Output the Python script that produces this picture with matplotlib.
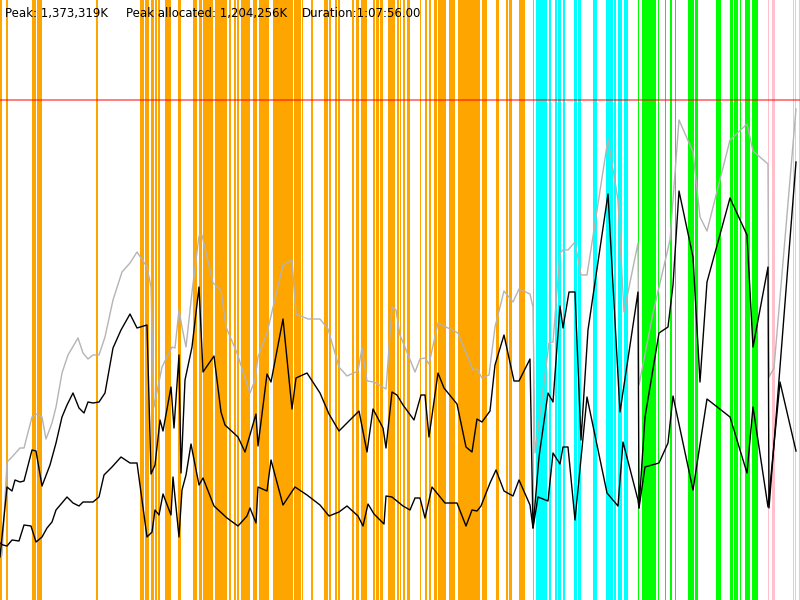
import matplotlib
matplotlib.use("Agg")
import matplotlib.pyplot as plt

# memory samples, in chart units where the peak (1,373,319K) sits at 500
PEAK_LEVEL = 500
peak_text = "Peak: 1,373,319K"
alloc_text = "Peak allocated: 1,204,256K"
dur_text = "Duration:1:07:56.00"

# gc / phase markers as (start, end) spans on the time axis
orange_spans = [
    (0, 2), (6, 8), (32, 36), (37, 42), (96, 98), (140, 144), (145, 149),
    (151, 154), (155, 157), (157.5, 160), (165, 171), (178, 181), (193, 197),
    (199, 202), (203, 213), (215, 227), (229, 230.5), (234, 236), (237, 239),
    (241, 250), (253, 257), (259, 269), (273, 293), (293.5, 301), (302, 303),
    (311, 313), (324, 328), (329, 331), (335, 337), (338, 339.5), (352, 354),
    (356, 359), (361, 367), (373, 375), (376, 379), (380, 383), (388, 395),
    (397, 399), (400, 401), (403, 405), (407, 410), (420, 421), (425, 427),
    (429, 431), (434, 437), (438, 446), (449, 455), (458, 480), (482, 487),
    (496, 499), (506, 508), (509, 512), (519, 525),
]
cyan_spans = [
    (532.5, 534), (536, 547), (549, 551), (555, 557), (558, 561), (563, 565),
    (574, 577), (577.5, 581), (593, 597), (606, 612.5), (613.5, 616),
    (618, 622), (623.5, 627.5),
]
green_spans = [
    (637.5, 638.5), (641.5, 646.7), (647.2, 652.5), (653, 656), (658.3, 659.3),
    (664.8, 666), (669.5, 671.5), (674.5, 676), (688, 694), (695, 697.5),
    (716, 721), (730, 733), (734, 737.5), (740, 741), (745, 749.5),
    (752, 757.5),
]
pink_spans = [(767.5, 769), (771.5, 774.5), (792.5, 794), (795, 796), (799, 800)]

# total heap (gray)
heap_t = [2, 7, 12, 20, 24, 32, 37, 42, 46, 52, 56, 62, 68, 78, 83, 88, 93, 99,
          105, 113, 122, 130, 137, 147, 151, 154, 162, 172, 175, 179, 182, 186,
          192, 199, 202, 213, 221, 226, 237, 250, 255, 258, 267, 283, 292, 296,
          308, 320, 328, 339, 347, 358, 362, 367, 374, 386, 392, 396, 400, 415,
          420, 425, 429, 438, 458, 473, 477, 482, 489, 495, 504, 513, 519, 530,
          533, 535, 549, 553, 560, 563, 568, 575, 581, 587, 608, 618, 624, 638,
          639, 653, 670, 679, 693, 700, 707, 730, 747, 753, 768, 769, 774, 796]
heap_v = [45, 138, 143, 152, 152, 183, 186, 183, 161, 177, 193, 227, 245, 262,
          247, 241, 245, 245, 263, 300, 328, 337, 348, 333, 313, 193, 233, 253,
          252, 290, 273, 253, 308, 364, 365, 317, 310, 273, 247, 207, 220, 243,
          267, 335, 340, 286, 281, 281, 271, 233, 224, 229, 252, 219, 218, 211,
          293, 290, 265, 228, 241, 242, 236, 277, 267, 230, 231, 222, 225, 273,
          309, 298, 311, 306, 293, 147, 257, 258, 347, 350, 350, 358, 325, 325,
          461, 400, 288, 357, 215, 287, 360, 480, 448, 383, 369, 460, 476, 449,
          436, 223, 232, 491]

# allocated (black, upper)
alloc_t = [0, 7, 12, 15, 20, 24, 32, 36, 42, 50, 56, 62, 67, 73, 79, 84, 88, 93,
           99, 105, 113, 121, 130, 137, 147, 151, 155, 160, 163, 171, 174, 179,
           181, 185, 192, 199, 203, 214, 221, 225, 238, 245, 256, 258, 267, 271,
           283, 292, 296, 307, 320, 329, 339, 359, 367, 373, 383, 386, 392, 397,
           403, 414, 421, 425, 429, 438, 444, 457, 466, 472, 477, 482, 490, 495,
           504, 514, 519, 530, 533, 539, 548, 553, 560, 563, 569, 575, 581, 588,
           608, 620, 638, 639, 645, 659, 668, 673, 679, 693, 700, 707, 730, 747,
           753, 768, 769, 796]
alloc_v = [43, 113, 109, 120, 118, 119, 150, 149, 114, 135, 157, 183, 195, 207,
           192, 187, 198, 197, 198, 207, 252, 270, 286, 272, 275, 126, 135, 180,
           169, 213, 172, 245, 127, 220, 253, 313, 228, 244, 188, 175, 163, 148,
           186, 154, 226, 218, 281, 191, 222, 227, 207, 186, 169, 189, 148, 191,
           172, 152, 208, 205, 195, 180, 205, 205, 163, 227, 212, 196, 153, 148,
           181, 178, 189, 235, 265, 219, 219, 241, 72, 143, 207, 198, 294, 272,
           308, 308, 160, 270, 406, 188, 308, 92, 183, 267, 273, 315, 409, 343,
           218, 318, 402, 365, 253, 333, 92, 438]

# live after gc (black, lower)
live_t = [0, 3, 7, 12, 19, 24, 31, 36, 42, 47, 52, 56, 67, 73, 79, 83, 93, 99,
          104, 112, 121, 130, 137, 147, 152, 155, 159, 163, 171, 173, 179, 182,
          186, 191, 199, 203, 214, 227, 238, 247, 250, 256, 258, 267, 271, 283,
          295, 307, 320, 329, 339, 347, 358, 363, 368, 374, 384, 386, 392, 403,
          410, 415, 420, 425, 432, 445, 457, 466, 472, 477, 481, 490, 496, 504,
          513, 519, 530, 533, 538, 548, 553, 560, 563, 568, 575, 587, 607, 618,
          623, 638, 639, 645, 659, 668, 673, 693, 707, 730, 747, 753, 768, 780,
          796]
live_v = [57, 55, 54, 60, 59, 75, 74, 58, 63, 72, 78, 90, 103, 97, 94, 98, 98,
          103, 125, 133, 143, 137, 137, 63, 68, 90, 85, 106, 85, 123, 63, 110,
          125, 156, 115, 122, 94, 82, 74, 84, 92, 77, 113, 109, 140, 95, 113,
          105, 95, 84, 88, 94, 84, 74, 96, 86, 76, 104, 103, 94, 90, 102, 102,
          82, 113, 97, 97, 74, 90, 89, 94, 117, 130, 109, 104, 120, 95, 72, 103,
          99, 147, 136, 153, 153, 80, 203, 107, 94, 158, 100, 92, 133, 137, 157,
          204, 110, 201, 183, 127, 193, 93, 218, 149]

fig = plt.figure(figsize=(8, 6), dpi=100)
ax = fig.add_axes([0, 0, 1, 1])
ax.set_xlim(0, 800)
ax.set_ylim(0, 600)
ax.axis("off")

for spans, col in [(orange_spans, "#ffa500"), (cyan_spans, "#00ffff"),
                   (green_spans, "#00ff00"), (pink_spans, "#ffc0cb")]:
    ax.bar([s for s, e in spans], 600, width=[e - s for s, e in spans],
           align="edge", color=col, linewidth=0, zorder=1)

ax.axhline(PEAK_LEVEL, color="red", alpha=0.55, lw=1.3, zorder=2)

ax.plot(heap_t, heap_v, color="#b4b4b4", lw=1.0, zorder=3)
ax.plot(alloc_t, alloc_v, color="black", lw=1.0, zorder=4)
ax.plot(live_t, live_v, color="black", lw=1.0, zorder=4)

ax.text(5, 583, peak_text, fontsize=8.5, va="baseline", zorder=5)
ax.text(126, 583, alloc_text, fontsize=8.5, va="baseline", zorder=5)
ax.text(302, 583, dur_text, fontsize=8.5, va="baseline", zorder=5)

fig.savefig("out.png", dpi=100)
